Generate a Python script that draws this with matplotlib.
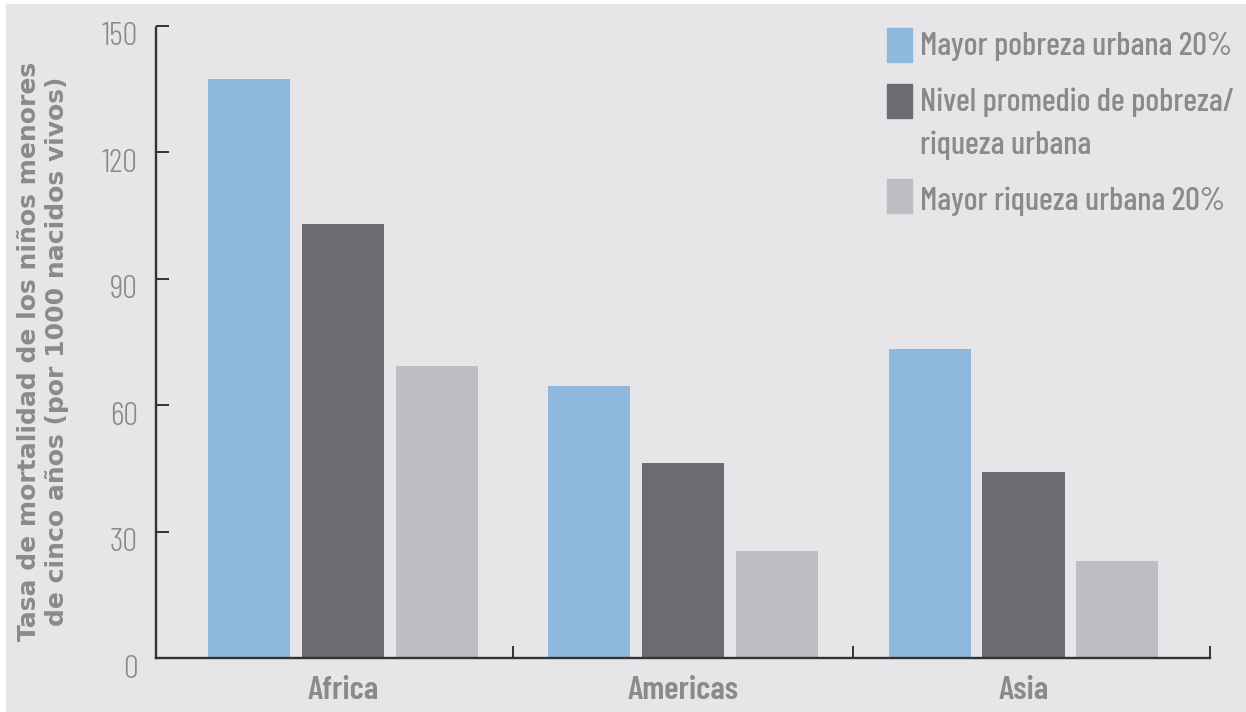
import numpy as np
import matplotlib.pyplot as plt
import matplotlib.transforms as mtransforms
from matplotlib.patches import Rectangle

# Under-five mortality by urban wealth group
regions = ["Africa", "Americas", "Asia"]
series_labels = ["Mayor pobreza urbana 20%",
                 "Nivel promedio de pobreza/\nriqueza urbana",
                 "Mayor riqueza urbana 20%"]
poorest = [137.4, 64.6, 73.3]
average = [103.0, 46.3, 44.1]
richest = [69.3, 25.4, 23.0]
yticks = [0, 30, 60, 90, 120, 150]

colors = ["#8fb8dd", "#6b6c70", "#bdbec2"]
bg = "#e6e6e8"
text_gray = "#8a8a8c"
axis_col = "#333333"
narrow = ["Barlow Condensed", "DejaVu Sans"]

W, H = 1246, 712
fig = plt.figure(figsize=(W / 100, H / 100), dpi=100, facecolor="white")
# grey panel with a thin white margin on the left and top
fig.patches.append(Rectangle((6 / W, 0), 1 - 6 / W, 1 - 4 / H,
                             transform=fig.transFigure, color=bg, zorder=-10))

ax = fig.add_axes([156 / W, 1 - 658 / H, (1210 - 156) / W, (658 - 26) / H])
ax.set_facecolor(bg)

x = np.arange(len(regions))
width = 0.241
step = 0.276
for i, vals in enumerate([poorest, average, richest]):
    ax.bar(x + (i - 1) * step, vals, width=width, color=colors[i], zorder=2)

ax.set_ylim(0, 150)
ax.set_xlim(-0.549, 2.548)

# dotted axis lines
for side in ["top", "right"]:
    ax.spines[side].set_visible(False)
for side in ["left", "bottom"]:
    ax.spines[side].set_color(axis_col)
    ax.spines[side].set_linewidth(1.7)
    ax.spines[side].set_linestyle((0, (1.0, 1.0)))
    ax.spines[side].set_zorder(3)

ax.set_yticks(yticks)
ax.set_yticklabels([str(v) for v in yticks], family=narrow, fontsize=24,
                   fontweight=300, color=text_gray)
ax.tick_params(axis="y", direction="in", length=9, width=1.4, color=axis_col,
               pad=13)
# numbers sit a little below their ticks
shift = mtransforms.ScaledTranslation(0, -0.08, fig.dpi_scale_trans)
for lab in ax.get_yticklabels():
    lab.set_transform(lab.get_transform() + shift)

ax.set_xticks(x)
ax.set_xticklabels(regions, family=narrow, fontsize=24, fontweight=600,
                   color=text_gray)
ax.tick_params(axis="x", which="major", length=0, pad=13)
ax.set_xticks([0.5, 1.5, 2.548], minor=True)
ax.tick_params(axis="x", which="minor", direction="in", length=9, width=1.4,
               color=axis_col)

fig.text(0.0345, 1 - 351 / H,
         "Tasa de mortalidad de los niños menores\nde cinco años (por 1000 nacidos vivos)",
         rotation=90, ha="center", va="center", multialignment="center",
         fontsize=18, fontweight="bold", color=text_gray, linespacing=1.22)

# legend drawn by hand so the swatch sits on the first text line
sw_x, sw_w, sw_h = 887, 25, 34
tx = 920
swatch_tops = [28, 84, 179]
baselines = [[55], [111, 154], [210]]
for top, base, lab, col in zip(swatch_tops, baselines, series_labels, colors):
    fig.patches.append(Rectangle((sw_x / W, 1 - (top + sw_h) / H),
                                 sw_w / W, sw_h / H,
                                 transform=fig.transFigure, color=col))
    for line, b in zip(lab.split("\n"), base):
        fig.text(tx / W, 1 - b / H, line, ha="left", va="baseline",
                 family=narrow, fontsize=23.5, fontweight=500, color=text_gray)

fig.savefig("out.png", dpi=100, facecolor="white")
